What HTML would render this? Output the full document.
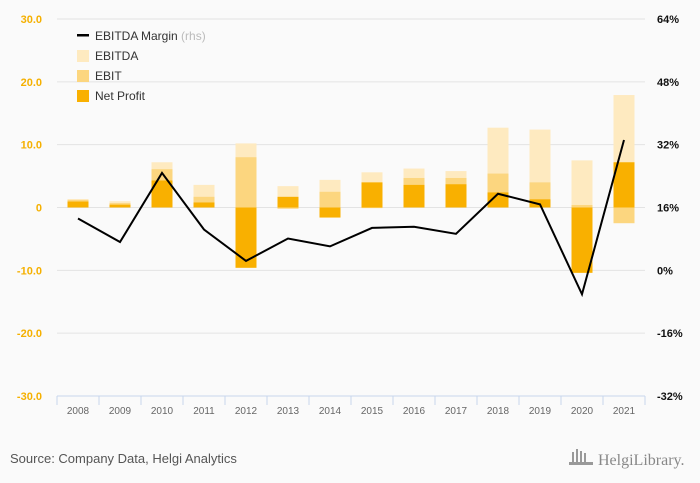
<!DOCTYPE html>
<html><head><meta charset="utf-8"><style>
body{margin:0;background:#fafafa;}
svg{display:block;font-family:"Liberation Sans",sans-serif;}
</style></head><body>
<svg id="c" width="700" height="483">
<rect width="700" height="483" fill="#fafafa"/>
<g id="grid"></g><g id="bars"></g><g id="line"></g><g id="axes"></g>
<g>
<rect x="77" y="34" width="12" height="2.5" fill="#000"/>
<text x="95" y="40" font-size="12" fill="#333">EBITDA Margin <tspan fill="#bbb">(rhs)</tspan></text>
<rect x="77" y="50" width="12" height="12" fill="#feeac0"/>
<text x="95" y="60" font-size="12" fill="#333">EBITDA</text>
<rect x="77" y="70" width="12" height="12" fill="#fcd67f"/>
<text x="95" y="80" font-size="12" fill="#333">EBIT</text>
<rect x="77" y="90" width="12" height="12" fill="#f9b000"/>
<text x="95" y="100" font-size="12" fill="#333">Net Profit</text>
</g>
<text x="10" y="463" font-size="13" fill="#555">Source: Company Data, Helgi Analytics</text>
<text x="598" y="465" font-size="16" fill="#888" font-family="Liberation Serif,serif">HelgiLibrary.</text>
<g fill="#999"><rect x="572" y="452" width="2" height="12"/><rect x="576" y="449" width="2" height="15"/><rect x="580" y="451" width="2" height="13"/><rect x="584" y="453" width="2" height="11"/><rect x="569" y="462" width="24" height="3"/></g>
</svg>
<script>
const categories=["2008","2009","2010","2011","2012","2013","2014","2015","2016","2017","2018","2019","2020","2021"];
const ebitda=[1.35,1.0,7.2,3.6,10.2,3.4,4.4,5.6,6.2,5.8,12.7,12.4,7.5,17.9];
const ebit=[1.2,0.7,6.1,1.7,8.0,-0.2,2.5,-0.1,4.7,4.7,5.4,4.0,0.4,-2.5];
const netProfit=[0.95,0.45,4.3,0.8,-9.6,1.7,-1.6,4.0,3.6,3.7,2.4,1.3,-10.4,7.2];
const margin=[13.2,7.2,24.8,10.4,2.4,8.1,6.1,10.8,11.1,9.3,19.5,16.8,-6.1,33.2];
const leftTicks=[30,20,10,0,-10,-20,-30];
const leftTickLabels=["30.0","20.0","10.0","0","-10.0","-20.0","-30.0"];
const rightTicks=[64,48,32,16,0,-16,-32];
const rightTickLabels=["64%","48%","32%","16%","0%","-16%","-32%"];
const NS="http://www.w3.org/2000/svg";
const X0=57,STEP=42,TOP=19,BOT=396;
const yL=v=>TOP+(30-v)/60*(BOT-TOP);
const yR=v=>TOP+(64-v)/96*(BOT-TOP);
const xC=i=>X0+STEP*i+STEP/2;
function mk(tag,attrs,parent){const e=document.createElementNS(NS,tag);for(const k in attrs)e.setAttribute(k,attrs[k]);document.getElementById(parent).appendChild(e);return e;}
leftTicks.forEach((t,i)=>{
  if(t!==-30){const g=mk('line',{x1:X0,x2:X0+STEP*14,y1:yL(t),y2:yL(t),stroke:'#e3e3e3','stroke-width':1},'grid');
  
  }
  const l=mk('text',{x:42,y:yL(t)+4,'text-anchor':'end','font-size':11,'font-weight':'bold',fill:'#f5b000'},'axes');
  l.textContent=leftTickLabels[i];
  
  
});
rightTicks.forEach((t,i)=>{
  const l=mk('text',{x:657,y:yR(t)+4,'font-size':11,'font-weight':'bold',fill:'#111'},'axes');
  l.textContent=rightTickLabels[i];
  
  
});
const ax=mk('line',{x1:X0,x2:X0+STEP*14,y1:BOT,y2:BOT,stroke:'#c8d6ec','stroke-width':1},'axes');


for(let i=0;i<=14;i++){const t=mk('line',{x1:X0+STEP*i,x2:X0+STEP*i,y1:BOT,y2:BOT+9,stroke:'#c8d6ec'},'axes');

}
categories.forEach((c,i)=>{
  const l=mk('text',{x:xC(i),y:414,'text-anchor':'middle','font-size':10,fill:'#666'},'axes');
  l.textContent=c;
  
  
});
function bar(v,i,col,name){
  const y0=yL(0),y1=yL(v);
  const r=mk('rect',{x:xC(i)-10.5,width:21,y:Math.min(y0,y1),height:Math.abs(y1-y0),fill:col},'bars');
  
  
}
categories.forEach((c,i)=>{bar(ebitda[i],i,'#feeac0','bar-ebitda');});
categories.forEach((c,i)=>{bar(ebit[i],i,'#fcd67f','bar-ebit');});
categories.forEach((c,i)=>{bar(netProfit[i],i,'#f9b000','bar-net-profit');});
const pts=margin.map((v,i)=>xC(i)+','+yR(v)).join(' ');
const pl=mk('polyline',{points:pts,fill:'none',stroke:'#000','stroke-width':2,'stroke-linejoin':'miter'},'line');


</script>
</body></html>
